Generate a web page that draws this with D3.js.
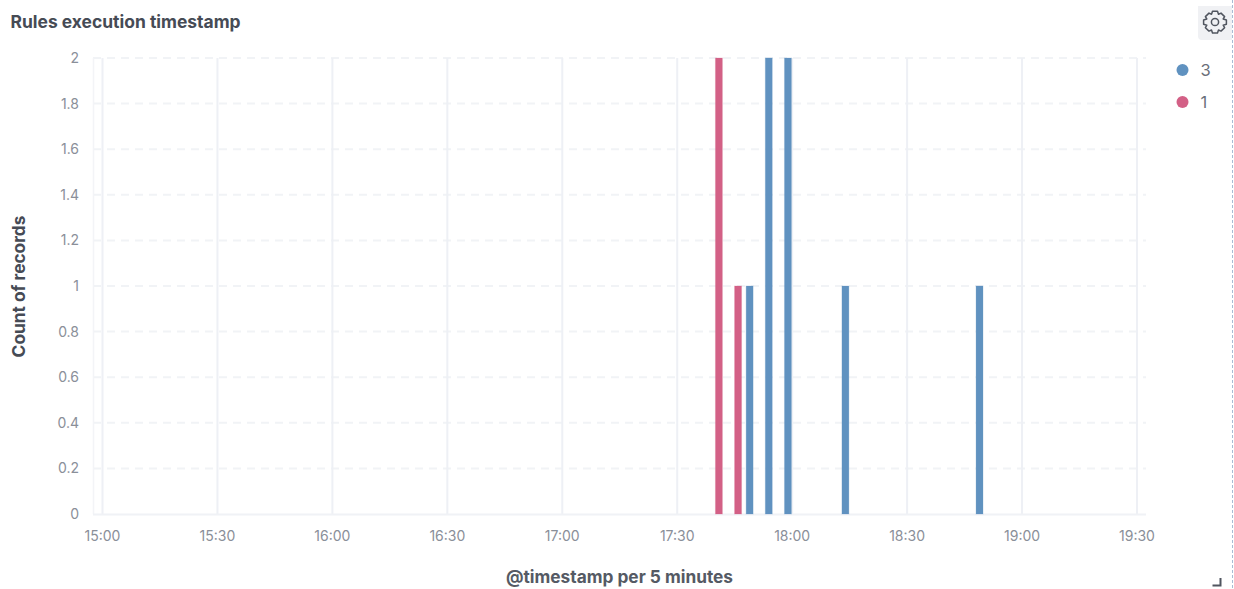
<!DOCTYPE html>
<html><head><meta charset="utf-8">
<script src="https://cdn.jsdelivr.net/npm/d3@7/dist/d3.min.js"></script>
<style>
html,body{margin:0;padding:0;background:#fff;overflow:hidden}
svg{display:block}
text{font-family:Inter,"Noto Sans",sans-serif}
</style></head><body>
<svg id="c" width="1234" height="589"></svg>
<script>
const title = "Rules execution timestamp";
const xLabel = "@timestamp per 5 minutes";
const yLabel = "Count of records";
const seriesNames = ["3", "1"];
const slotOrder = ["1", "3"];
const seriesColors = ["#6092c0", "#d36086"];
const yTicks = [0, 0.2, 0.4, 0.6, 0.8, 1, 1.2, 1.4, 1.6, 1.8, 2];
const bucketTimes = ["17:40", "17:45", "17:45", "17:50", "17:55", "18:10", "18:45"];
const bucketSeries = ["1", "1", "3", "3", "3", "3", "3"];
const bucketCounts = [2, 1, 1, 2, 2, 1, 1];
const xTickLabels = ["15:00","15:30","16:00","16:30","17:00","17:30","18:00","18:30","19:00","19:30"];

const parse = s => { const [h,m] = s.split(":").map(Number); return new Date(Date.UTC(2021,0,1,h,m)); };
const x = d3.scaleUtc().domain([parse("15:00"), parse("19:30")]).range([102.5, 1137]);
const y = d3.scaleLinear().domain([0, 2]).range([514, 58]);
const slot = d3.scaleBand().domain(slotOrder).range([-0.1, 18.4]).paddingInner(0.4).paddingOuter(0);
const svg = d3.select("#c");

// panel decorations
svg.append("line").attr("x1",1232.5).attr("x2",1232.5).attr("y1",0).attr("y2",589)
  .attr("stroke","#a9bcd4").attr("stroke-width",1).attr("stroke-dasharray","3 2");
svg.append("path").attr("d","M1198 6H1232V40H1202a4 4 0 0 1-4-4Z").attr("fill","#f0f1f4");
const gear = svg.append("g").attr("transform","translate(1215,22)").attr("fill","none").attr("stroke","#50555f").attr("stroke-width",1.5).attr("stroke-linejoin","round");
gear.append("circle").attr("r",3.6);
gear.append("path").attr("d","M-2.5-10.8H2.5L3.5-7.8 6-8.9 9.6-5.4 8.2-3 11.4-2V2.3L8.2 3.2 9.6 5.7 6 9.1 3.5 8 2.5 10.9H-2.5L-3.5 8-6 9.1-9.6 5.7-8.2 3.2-11.4 2.3V-2L-8.2-3-9.6-5.4-6-8.9-3.5-7.8Z");
svg.append("path").attr("d","M1212.5 585.5H1220.5V578").attr("fill","none").attr("stroke","#50555f").attr("stroke-width",2);

// title
svg.append("text").attr("x",10.5).attr("y",28).attr("font-size",17.45).attr("font-weight",700).attr("fill","#464b55").text(title);

// grid
svg.append("g").selectAll("line").data(yTicks.filter(d=>d>0)).join("line")
  .attr("x1",93).attr("x2",1146).attr("y1",d=>y(d)).attr("y2",d=>y(d))
  .attr("stroke","#f1f3f6").attr("stroke-width",2).attr("stroke-dasharray","8 6");
svg.append("g").selectAll("line").data(xTickLabels).join("line")
  .attr("x1",d=>x(parse(d))).attr("x2",d=>x(parse(d))).attr("y1",58).attr("y2",514)
  .attr("stroke","#eef0f5").attr("stroke-width",2);
svg.append("line").attr("x1",93.5).attr("x2",93.5).attr("y1",58).attr("y2",514).attr("stroke","#f3f4f7").attr("stroke-width",1.5);
svg.append("line").attr("x1",93).attr("x2",1146).attr("y1",514.5).attr("y2",514.5).attr("stroke","#f0f2f6").attr("stroke-width",2);

// bars
const colorOf = d3.scaleOrdinal().domain(seriesNames).range(seriesColors);
svg.append("g").selectAll("rect").data(bucketTimes).join("rect")
  .attr("x",(d,i)=>x(parse(d))+slot(bucketSeries[i]))
  .attr("width",slot.bandwidth())
  .attr("y",(d,i)=>y(bucketCounts[i]))
  .attr("height",(d,i)=>y(0)-y(bucketCounts[i]))
  .attr("fill",(d,i)=>colorOf(bucketSeries[i]))
  .attr("stroke",(d,i)=>colorOf(bucketSeries[i]))
  .attr("stroke-opacity",0.25).attr("stroke-width",1);

// y ticks
svg.append("g").selectAll("text").data(yTicks).join("text")
  .attr("x",79).attr("y",d=>y(d)+5).attr("text-anchor","end")
  .attr("font-size",14).attr("fill","#8a8f99").text(d=>d);
// x ticks
svg.append("g").selectAll("text").data(xTickLabels).join("text")
  .attr("x",d=>x(parse(d))).attr("y",541).attr("text-anchor","middle")
  .attr("font-size",14).attr("fill","#8a8f99").text(d=>d);
// axis titles
svg.append("text").attr("x",619.5).attr("y",583).attr("text-anchor","middle").attr("font-size",17.3).attr("font-weight",700).attr("fill","#555a64").text(xLabel);
svg.append("text").attr("transform","translate(25,286.5) rotate(-90)").attr("text-anchor","middle").attr("font-size",17.3).attr("font-weight",700).attr("fill","#464b55").text(yLabel);

// legend
const lg = svg.append("g").selectAll("g").data(seriesNames).join("g").attr("transform",(d,i)=>`translate(1182.5,${70+i*32})`);
lg.append("circle").attr("r",6).attr("fill",d=>colorOf(d));
lg.append("text").attr("x",18).attr("y",6).attr("font-size",16.5).attr("fill","#6a6f79").text(d=>d);
</script></body></html>
